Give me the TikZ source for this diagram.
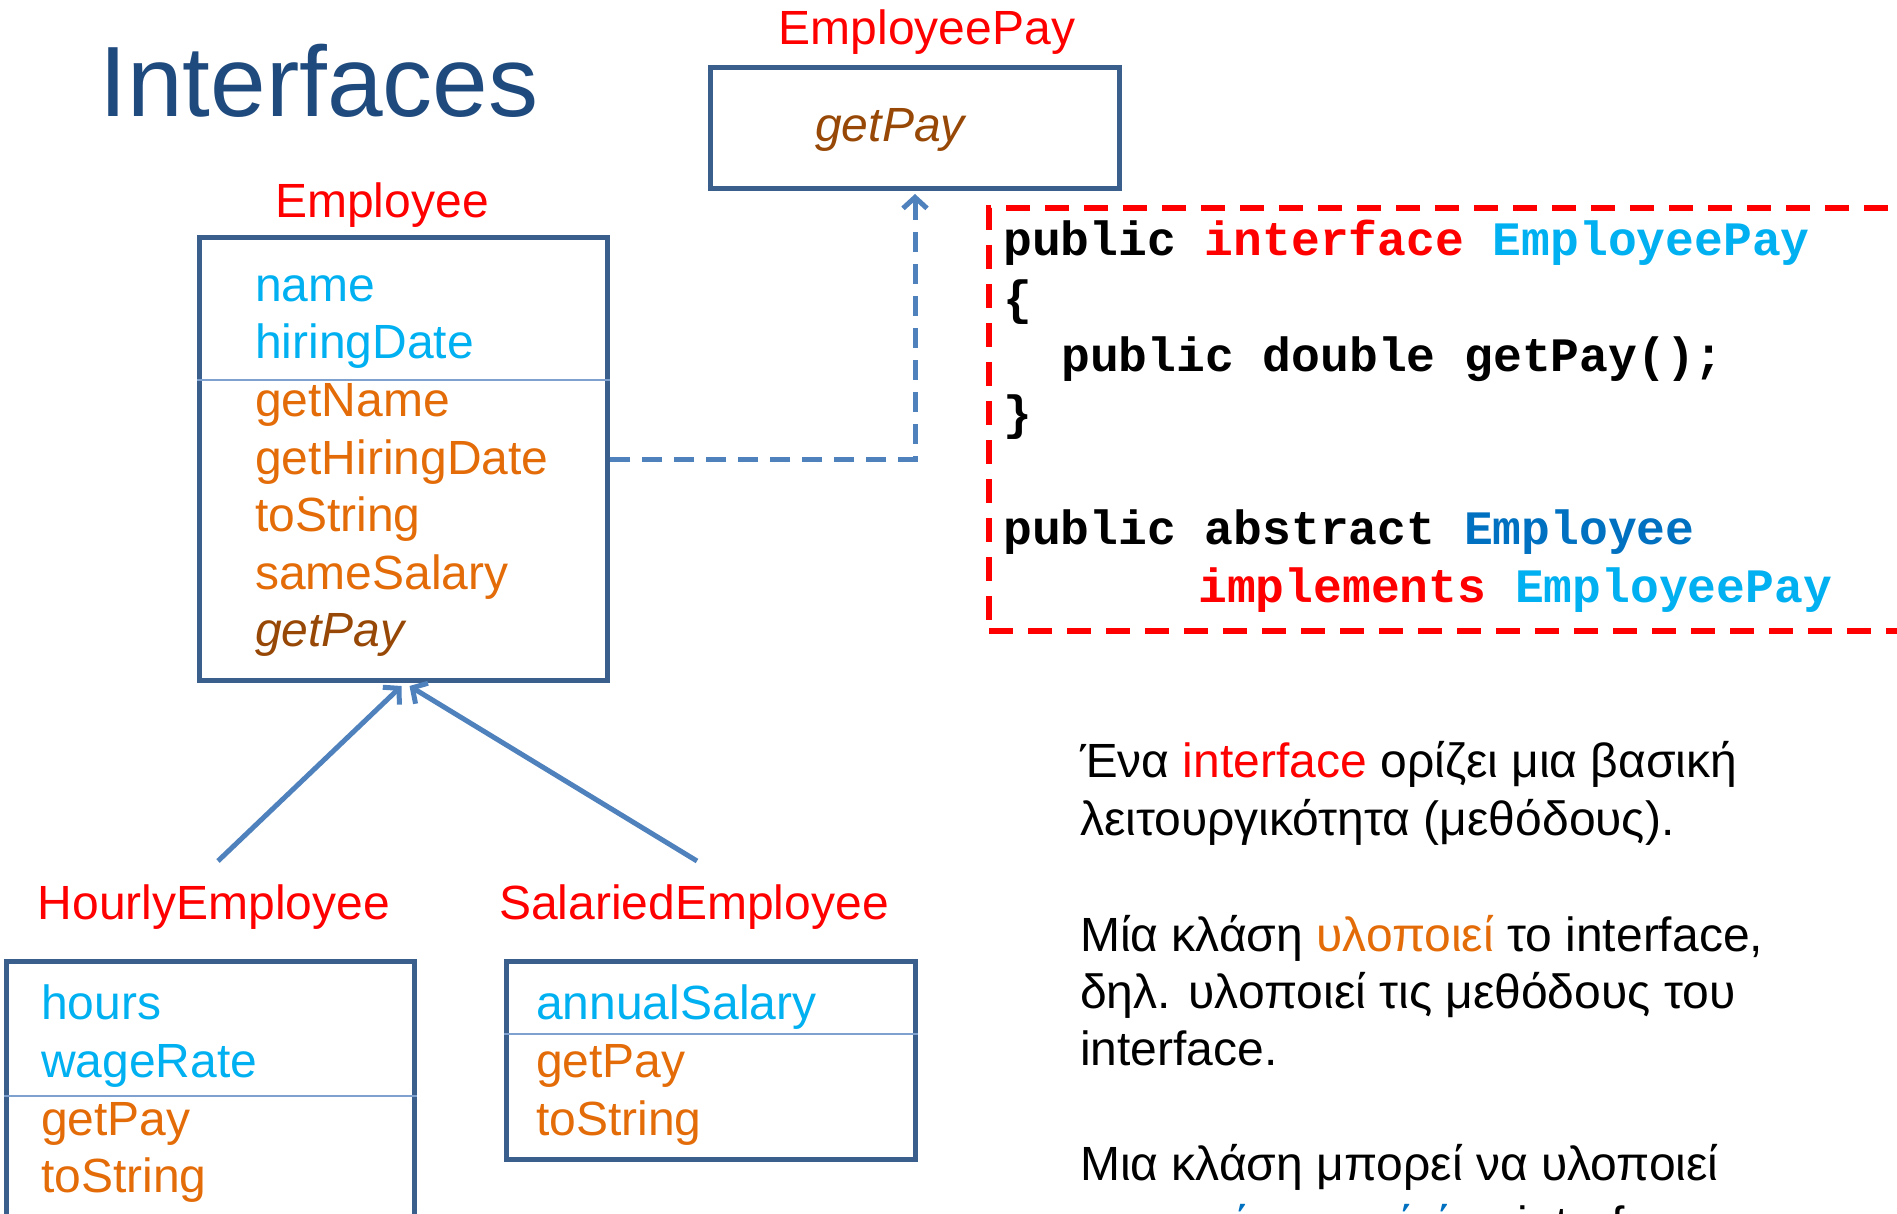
\documentclass[tikz,border=0pt]{standalone}
\usepackage{fontspec}
\setmainfont{Liberation Sans}
\newfontfamily\codefont{Liberation Mono}
\usetikzlibrary{arrows.meta}
\definecolor{titleblue}{HTML}{1F4A7E}
\definecolor{boxblue}{HTML}{3A5F8C}
\definecolor{lineblue}{HTML}{4F81BD}
\definecolor{divblue}{HTML}{7EA1CF}
\definecolor{fieldcyan}{HTML}{00B0F0}
\definecolor{methorange}{HTML}{E36C09}
\definecolor{absbrown}{HTML}{974806}
\definecolor{codeblue}{HTML}{0070C0}
\tikzset{
  big/.style={font=\fontsize{48}{57.5}\selectfont},
  txt/.style={anchor=base west, inner sep=0pt, big},
  lbl/.style={anchor=base, inner sep=0pt, big, text=red},
  field/.style={txt, text=fieldcyan},
  meth/.style={txt, text=methorange},
  absm/.style={txt, text=absbrown, font=\fontsize{48}{57.5}\selectfont\itshape},
  classbox/.style={draw=boxblue, line width=5pt, inner sep=0pt, anchor=north west},
  divider/.style={draw=divblue, line width=1.8pt},
  codeln/.style={anchor=base west, inner sep=0pt, font=\codefont\bfseries\fontsize{48}{58}\selectfont},
  conn/.style={draw=lineblue, line width=5pt, -{Straight Barb[length=11pt,width=24pt]}},
  dashconn/.style={conn, dash pattern=on 20pt off 12pt},
  codebox/.style={draw=red, line width=6pt, dash pattern=on 24pt off 15pt, inner sep=0pt, anchor=north west},
}
\begin{document}
\begin{tikzpicture}[x=1pt,y=1pt]
\useasboundingbox (0,0) rectangle (1897,-1214);
\clip (0,0) rectangle (1897,-1214);

% title
\node[anchor=base west, inner sep=0pt, text=titleblue, font=\fontsize{100}{120}\selectfont] (title) at (99,-117) {Interfaces};

% EmployeePay interface
\node[lbl] (eplbl) at (927,-45) {EmployeePay};
\node[classbox, minimum width=409pt, minimum height=121pt] (ep) at (708,-65) {};
\node[absm, anchor=base] (epm) at (890,-142) {getPay};

% Employee
\node[lbl] (emplbl) at (382,-218) {Employee};
\node[classbox, minimum width=408pt, minimum height=443pt] (emp) at (197,-235) {};
\draw[divider] ([yshift=-145pt]emp.north west) -- ([yshift=-145pt]emp.north east);
\node[field] (e1) at (255,-302) {name};
\node[field] (e2) at (255,-359) {hiringDate};
\node[meth] (e3) at (255,-416) {getName};
\node[meth] (e4) at (255,-474) {getHiringDate};
\node[meth] (e5) at (255,-531) {toString};
\node[meth] (e6) at (255,-589) {sameSalary};
\node[absm] (e7) at (255,-646) {getPay};

% HourlyEmployee
\node[lbl] (hlbl) at (214,-919) {HourlyEmployee};
\node[classbox, minimum width=408pt, minimum height=290pt] (hour) at (4,-959) {};
\draw[divider] ([yshift=-137pt]hour.north west) -- ([yshift=-137pt]hour.north east);
\node[field] (h1) at (41,-1019) {hours};
\node[field] (h2) at (41,-1077) {wageRate};
\node[meth] (h3) at (41,-1135) {getPay};
\node[meth] (h4) at (41,-1192) {toString};

% SalariedEmployee
\node[lbl] (slbl) at (694,-919) {SalariedEmployee};
\node[classbox, minimum width=409pt, minimum height=198pt] (sal) at (504,-959) {};
\draw[divider] ([yshift=-75pt]sal.north west) -- ([yshift=-75pt]sal.north east);
\node[field] (s1) at (536,-1019) {annualSalary};
\node[meth] (s2) at (536,-1077) {getPay};
\node[meth] (s3) at (536,-1135) {toString};

% connectors
\coordinate (hstart) at (218,-861);
\coordinate (sstart) at (697,-861);
\draw[conn] (hstart) -- ([xshift=-2pt,yshift=-3pt]emp.south);
\draw[conn] (sstart) -- ([xshift=6pt,yshift=-3pt]emp.south);
\draw[dashconn] (emp.east) -| ([yshift=-3pt]ep.south);

% code box
\node[codebox, minimum width=940pt, minimum height=423pt] (code) at (986,-205) {};
\node[codeln] (c1) at (1003,-256) {public \textcolor{red}{interface} \textcolor{fieldcyan}{EmployeePay}};
\node[codeln] (c2) at (1003,-315) {\{};
\node[codeln] (c3) at (1061,-371) {public double getPay();};
\node[codeln] (c4) at (1003,-429) {\}};
\node[codeln] (c5) at (1003,-544) {public abstract \textcolor{codeblue}{Employee}};
\node[codeln] (c6) at (1198,-602) {\textcolor{red}{implements} \textcolor{fieldcyan}{EmployeePay}};

% explanatory text
\node[txt] (g1) at (1080,-777) {Ένα \textcolor{red}{interface} ορίζει μια βασική};
\node[txt] (g2) at (1080,-835) {λειτουργικότητα (μεθόδους).};
\node[txt] (g3) at (1080,-951) {Μία κλάση \textcolor{methorange}{υλοποιεί} το interface,};
\node[txt] (g4) at (1080,-1008) {δηλ. υλοποιεί τις μεθόδους του};
\node[txt] (g5) at (1080,-1065) {interface.};
\node[txt] (g6) at (1080,-1180) {Μια κλάση μπορεί να υλοποιεί};
\node[txt] (g7) at (1080,-1240) {\textcolor{codeblue}{παραπάνω από ένα} interfaces};
\end{tikzpicture}
\end{document}
